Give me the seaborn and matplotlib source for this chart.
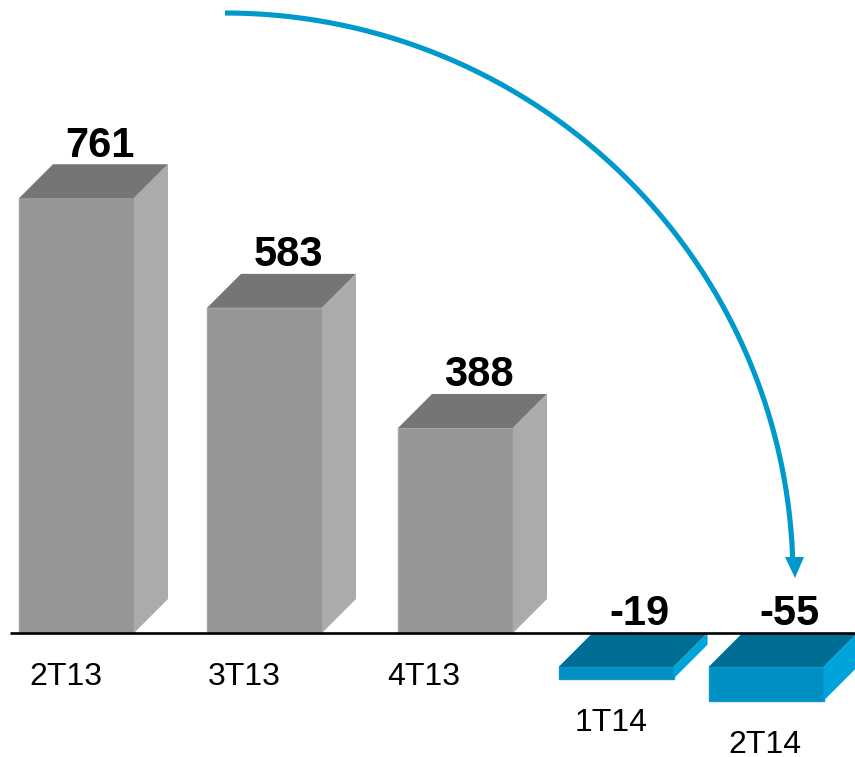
import numpy as np
import pandas as pd
import matplotlib
matplotlib.use("Agg")
import matplotlib.pyplot as plt
import seaborn as sns

# Quarterly results
quarters = ["2T13", "3T13", "4T13", "1T14", "2T14"]
results = [761, 583, 388, -19, -55]
value_labels = ["761", "583", "388", "-19", "-55"]

# Canvas layout (pixel units)
W, H = 855, 757
AXIS_Y = 633            # pixel row of the zero line
SCALE = 0.616           # pixels per unit of result
slot_x = [76.5, 264.5, 455.5, 616, 766]   # centres of the front faces
tick_x = [66, 244, 424, 611, 765]         # centres of the quarter labels
FRONT_W = 115
DX = 34                 # horizontal depth of the boxes (px)
DY = 34 / SCALE         # vertical depth of the boxes (value units)

GRAY = dict(front="#969696", edge="#a3a3a3", top="#757575", side="#ababab")
BLUE = dict(front="#008fc2", edge="#0a9ad0", top="#006e94", side="#00a4dc")
ARROW = "#0099cc"

sns.set_theme(style="white")
plt.rcParams["font.family"] = ["Liberation Sans", "DejaVu Sans"]


def px_to_val(y_px):
    return (AXIS_Y - y_px) / SCALE


fig = plt.figure(figsize=(W / 100, H / 100), dpi=100)
ax = fig.add_axes([0, 0, 1, 1])

df = pd.DataFrame({"pos": slot_x, "result": results, "quarter": quarters})
sns.barplot(data=df, x="pos", y="result", native_scale=True, errorbar=None,
            width=FRONT_W / 150, ax=ax, zorder=2)

for patch, cx, v in zip(ax.patches, slot_x, results):
    pal = GRAY if v >= 0 else BLUE
    L, R = cx - FRONT_W / 2, cx + FRONT_W / 2
    if v >= 0:
        lo, hi = 0, v - DY
    else:
        lo, hi = v - DY, -DY
    # front face
    patch.set_x(L)
    patch.set_width(FRONT_W)
    patch.set_y(lo)
    patch.set_height(hi - lo)
    patch.set_facecolor(pal["front"])
    patch.set_edgecolor(pal["edge"])
    patch.set_linewidth(1.0)
    # top face
    ax.fill([L, R, R + DX, L + DX], [hi, hi, hi + DY, hi + DY],
            color=pal["top"], lw=0, zorder=2)
    # side face
    ax.fill([R, R + DX, R + DX, R], [hi, hi + DY, lo + DY, lo],
            color=pal["side"], lw=0, zorder=2)

# zero line
ax.plot([10, W], [0, 0], color="black", lw=1.9, zorder=5,
        solid_capstyle="butt")

# value labels
for cx, v, lab in zip(slot_x, results, value_labels):
    ax.annotate(lab, (cx + 0.7 * DX, max(v, 0)), xytext=(0, 5.5),
                textcoords="offset points", ha="center", va="baseline",
                fontsize=30, fontweight="bold", color="black", zorder=6)

# quarter labels below the boxes
for tx, v, q in zip(tick_x, results, quarters):
    base = 0 if v >= 0 else v - DY
    ax.annotate(q, (tx, base), xytext=(0, -21), textcoords="offset points",
                ha="center", va="top", fontsize=23, color="black", zorder=6)

# curved arrow from the first quarter down to the last one
cx_a, cy_a, rx, ry = 225, 578, 568, 565
t = np.linspace(0, np.arccos(18 / ry), 200)
ax.plot(cx_a + rx * np.sin(t), px_to_val(cy_a - ry * np.cos(t)),
        color=ARROW, lw=3.7, solid_capstyle="butt", zorder=4)
ax.fill([785, 804, 795], px_to_val(np.array([557, 557, 578])),
        color=ARROW, lw=0, zorder=4)

ax.set_xlim(0, W)
ax.set_ylim(px_to_val(H), px_to_val(0))
ax.set_axis_off()

fig.savefig("out.png", dpi=100)
